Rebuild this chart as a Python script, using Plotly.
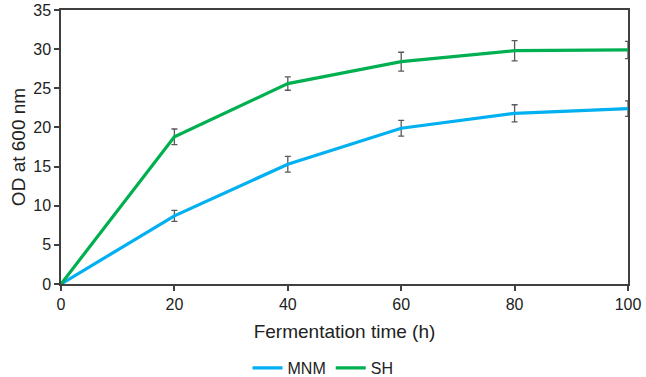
import plotly.graph_objects as go

time_h = [0, 20, 40, 60, 80, 100]
mnm_od = [0, 8.7, 15.3, 19.9, 21.8, 22.4]
mnm_err = [0, 0.7, 1.0, 1.0, 1.1, 1.0]
sh_od = [0, 18.8, 25.6, 28.4, 29.8, 29.9]
sh_err = [0, 1.0, 0.85, 1.2, 1.3, 1.1]

err_style = dict(type="data", visible=True, color="#595959", thickness=1.3, width=3)

fig = go.Figure()
fig.add_trace(go.Scatter(x=time_h, y=mnm_od, mode="lines", name="MNM",
                         line=dict(color="#00B0F0", width=3.2),
                         error_y=dict(array=mnm_err, **err_style)))
fig.add_trace(go.Scatter(x=time_h, y=sh_od, mode="lines", name="SH",
                         line=dict(color="#00B050", width=3.2),
                         error_y=dict(array=sh_err, **err_style)))

FONT = "Liberation Sans, Arial"
axis_common = dict(showgrid=False, zeroline=False, showline=True, linecolor="#404040",
                   linewidth=1.5, mirror=True, ticks="outside", tickcolor="#404040",
                   ticklen=5, tickwidth=1.5, automargin=False, ticklabeloverflow="allow",
                   tickfont=dict(family=FONT, size=16, color="#222"))

fig.update_layout(
    width=646, height=377,
    margin=dict(l=61, r=18, t=10, b=93, autoexpand=False),
    plot_bgcolor="white", paper_bgcolor="white",
    font=dict(family=FONT, size=16, color="#222"),
    xaxis=dict(range=[0, 100], tickvals=[0, 20, 40, 60, 80, 100],
               title=dict(text="Fermentation time (h)", standoff=13), **axis_common),
    yaxis=dict(range=[0, 35], tickvals=[0, 5, 10, 15, 20, 25, 30, 35],
               title=dict(text="OD at 600 nm", standoff=3), **axis_common),
    legend=dict(orientation="h", xref="container", yref="container",
                x=0.5, xanchor="center", y=0.024, yanchor="middle",
                font=dict(size=16), itemwidth=30, tracegroupgap=0),
    showlegend=True,
)

fig.write_html("out.html", config={"displayModeBar": False},
               post_script="document.body.style.margin='0';document.body.style.overflow='hidden';")
